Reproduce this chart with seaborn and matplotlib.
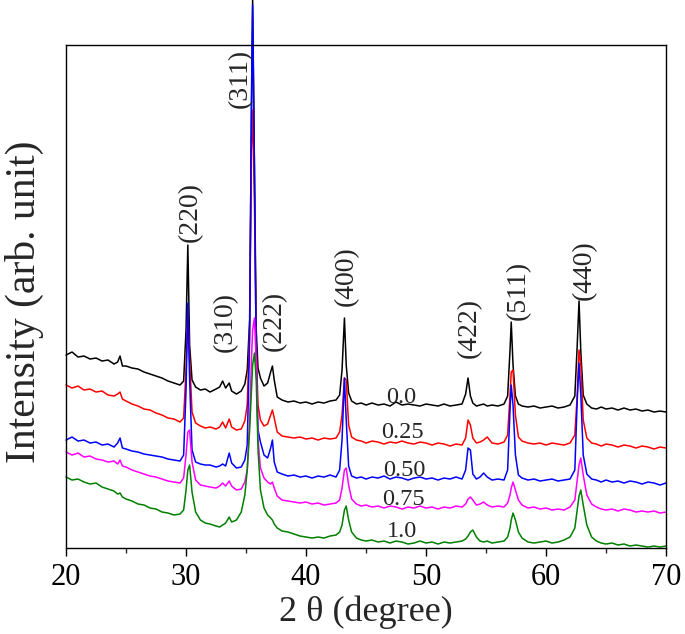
import matplotlib
matplotlib.use("Agg")
import numpy as np
import pandas as pd
import matplotlib.pyplot as plt
import seaborn as sns
from matplotlib.ticker import MultipleLocator

# 2 theta grid (degree), denser around the reflections
two_theta = [
    20.0, 20.5, 21.0, 21.5, 22.0, 22.5, 23.0, 23.5, 24.0, 24.3,
    24.5, 24.7, 25.0, 25.5, 26.0, 26.5, 27.0, 27.5, 28.0, 28.5,
    29.0, 29.5, 29.8, 30.0, 30.15, 30.3, 30.5, 30.8, 31.2, 31.6,
    32.0, 32.5, 32.8, 33.05, 33.3, 33.6, 33.8, 34.2, 34.6, 34.9,
    35.1, 35.3, 35.45, 35.55, 35.7, 35.85, 36.0, 36.2, 36.5, 36.8,
    37.05, 37.2, 37.35, 37.6, 38.0, 38.5, 39.0, 39.5, 40.0, 40.5,
    41.0, 41.5, 42.0, 42.5, 42.8, 43.0, 43.2, 43.35, 43.55, 43.8,
    44.2, 44.6, 45.0, 45.5, 46.0, 46.5, 47.0, 47.5, 48.0, 48.5,
    49.0, 49.5, 50.0, 50.5, 51.0, 51.5, 52.0, 52.5, 53.0, 53.3,
    53.5, 53.7, 53.9, 54.2, 54.5, 54.8, 55.1, 55.5, 56.0, 56.5,
    56.8, 57.0, 57.1, 57.25, 57.45, 57.7, 58.0, 58.5, 59.0, 59.5,
    60.0, 60.5, 61.0, 61.5, 62.0, 62.4, 62.6, 62.75, 62.9, 63.1,
    63.4, 63.8, 64.2, 64.6, 65.0, 65.5, 66.0, 66.5, 67.0, 67.5,
    68.0, 68.5, 69.0, 69.5, 70.0,
]

# stacked intensities (arb. unit), one list per composition
int_00 = [
    193, 196, 191, 192, 189, 190, 187, 188, 184, 186,
    192, 182, 182, 180, 179, 176, 174, 172, 170, 167,
    165, 163, 167, 218, 303, 203, 168, 161, 158, 159,
    156, 159, 161, 167, 160, 165, 157, 154, 157, 164,
    178, 228, 428, 548, 378, 218, 180, 170, 162, 165,
    176, 182, 168, 151, 148, 146, 147, 145, 146, 144,
    146, 145, 147, 148, 153, 178, 230, 183, 155, 147,
    144, 145, 143, 145, 143, 144, 142, 146, 143, 144,
    143, 142, 144, 143, 142, 144, 142, 143, 144, 154,
    170, 152, 145, 142, 143, 144, 142, 143, 142, 144,
    152, 198, 226, 183, 152, 144, 142, 141, 142, 140,
    141, 142, 140, 141, 143, 152, 203, 247, 196, 153,
    144, 140, 139, 141, 139, 140, 138, 140, 138, 139,
    137, 138, 136, 137, 136,
]
int_025 = [
    163, 160, 162, 158, 159, 156, 157, 153, 152, 154,
    156, 149, 147, 144, 142, 139, 138, 135, 133, 130,
    129, 126, 130, 178, 238, 188, 136, 125, 122, 120,
    121, 119, 121, 126, 120, 129, 121, 118, 119, 127,
    143, 218, 398, 438, 348, 198, 143, 128, 122, 124,
    133, 138, 130, 116, 112, 111, 110, 111, 109, 110,
    108, 110, 109, 110, 116, 133, 170, 168, 123, 111,
    108, 107, 105, 107, 106, 104, 106, 105, 107, 105,
    104, 106, 105, 103, 105, 104, 102, 104, 103, 110,
    128, 123, 110, 105, 106, 108, 111, 105, 104, 106,
    113, 153, 176, 178, 133, 111, 107, 105, 104, 105,
    103, 105, 104, 103, 105, 113, 153, 198, 183, 128,
    110, 105, 104, 102, 104, 103, 101, 103, 102, 100,
    102, 101, 99, 101, 100,
]
int_050 = [
    108, 111, 107, 108, 105, 106, 103, 104, 101, 105,
    110, 100, 99, 97, 96, 94, 93, 92, 91, 89,
    88, 87, 93, 158, 245, 168, 98, 86, 84, 83,
    83, 81, 82, 84, 82, 95, 85, 80, 81, 88,
    103, 208, 448, 543, 378, 188, 118, 106, 93, 90,
    100, 108, 86, 76, 74, 72, 73, 71, 72, 70,
    72, 71, 73, 71, 78, 108, 170, 128, 82, 72,
    70, 71, 69, 71, 70, 72, 69, 71, 70, 68,
    70, 71, 69, 70, 68, 70, 69, 71, 69, 78,
    100, 98, 74, 69, 71, 75, 71, 68, 69, 68,
    78, 138, 163, 143, 93, 73, 70, 68, 69, 67,
    68, 69, 67, 68, 69, 78, 148, 185, 153, 93,
    74, 69, 68, 66, 68, 66, 67, 65, 67, 66,
    64, 66, 65, 63, 65,
]
int_075 = [
    96, 93, 95, 91, 92, 89, 88, 86, 87, 84,
    88, 82, 81, 78, 76, 74, 72, 71, 69, 67,
    66, 65, 70, 93, 116, 118, 86, 68, 63, 62,
    61, 60, 62, 65, 62, 67, 62, 58, 59, 66,
    78, 128, 188, 218, 230, 188, 108, 80, 70, 66,
    64, 66, 60, 52, 48, 47, 46, 45, 46, 44,
    45, 43, 44, 45, 48, 60, 78, 80, 63, 49,
    44, 42, 43, 41, 42, 40, 42, 41, 39, 41,
    40, 42, 40, 41, 39, 41, 40, 42, 41, 44,
    49, 51, 48, 43, 44, 46, 43, 41, 42, 41,
    45, 53, 60, 66, 58, 48, 43, 40, 41, 39,
    40, 38, 39, 38, 41, 48, 68, 83, 90, 73,
    53, 44, 41, 39, 38, 39, 37, 39, 38, 36,
    37, 36, 37, 35, 36,
]
int_10 = [
    71, 68, 69, 66, 64, 65, 61, 59, 57, 54,
    55, 51, 49, 47, 44, 43, 40, 39, 36, 35,
    33, 34, 38, 58, 78, 83, 56, 36, 28, 25,
    24, 22, 21, 23, 25, 31, 26, 28, 36, 53,
    78, 118, 158, 183, 195, 168, 98, 58, 40, 33,
    30, 28, 24, 20, 17, 16, 14, 12, 11, 10,
    11, 10, 12, 13, 16, 23, 38, 42, 28, 16,
    10, 8, 7, 8, 6, 7, 5, 7, 6, 4,
    5, 7, 5, 6, 4, 6, 5, 6, 7, 9,
    12, 16, 18, 11, 7, 6, 7, 5, 6, 7,
    11, 20, 28, 35, 28, 16, 10, 6, 5, 6,
    7, 5, 6, 8, 11, 20, 38, 52, 58, 43,
    23, 11, 7, 5, 4, 5, 3, 4, 2, 3,
    2, 1, 2, 1, 2,
]

compositions = ["0.0", "0.25", "0.50", "0.75", "1.0"]
colors = ["black", "red", "blue", "magenta", "green"]

hkl = ["(220)", "(310)", "(311)", "(222)", "(400)", "(422)", "(511)", "(440)"]

series = [int_00, int_025, int_050, int_075, int_10]
df = pd.concat(
    [pd.DataFrame({"two_theta": two_theta, "intensity": y, "x": c})
     for c, y in zip(compositions, series)],
    ignore_index=True,
)

sns.set_style("ticks")
plt.rcParams["font.family"] = ["Liberation Serif", "DejaVu Serif"]

fig = plt.figure(figsize=(6.85, 6.34), dpi=100)
ax = fig.add_axes([0.0964, 0.1356, 0.8759, 0.7934])

sns.lineplot(data=df, x="two_theta", y="intensity", hue="x",
             hue_order=compositions, palette=colors, estimator=None,
             sort=False, lw=1.1, legend=False, ax=ax)
# the (311) reflection runs past the top of the frame
for line in ax.lines:
    line.set_clip_on(False)

ax.set_xlim(20, 70)
ax.set_ylim(0, 503)
ax.set_yticks([])
ax.xaxis.set_major_locator(MultipleLocator(10))
ax.xaxis.set_minor_locator(MultipleLocator(5))
ax.tick_params(axis="x", which="major", direction="out", length=6,
               width=1.0, labelsize=22, pad=5, colors="black")
ax.tick_params(axis="x", which="minor", direction="out", length=3.5,
               width=1.0)
for s in ax.spines.values():
    s.set_linewidth(1.0)
    s.set_color("black")

ax.set_xlabel("2 θ (degree)", fontsize=26, labelpad=2)
ax.set_ylabel("Intensity (arb. unit)", fontsize=30)
ax.yaxis.set_label_coords(-0.037, 0.49)

# peak indices
hkl_pos = [(30.33, 336), (33.3, 226), (34.55, 470), (37.4, 227),
           (43.4, 272), (53.6, 220), (57.67, 258), (63.2, 278)]
for lab, (px, py) in zip(hkl, hkl_pos):
    ax.text(px, py, lab, rotation=90, ha="center", va="center", fontsize=20)

# composition labels
comp_pos = [(47.9, 151), (48.0, 116), (48.2, 78), (48.1, 49), (48.0, 17)]
for lab, (px, py) in zip(compositions, comp_pos):
    ax.text(px, py, lab, ha="center", va="center", fontsize=17.5)

fig.savefig("out.png", dpi=100)
